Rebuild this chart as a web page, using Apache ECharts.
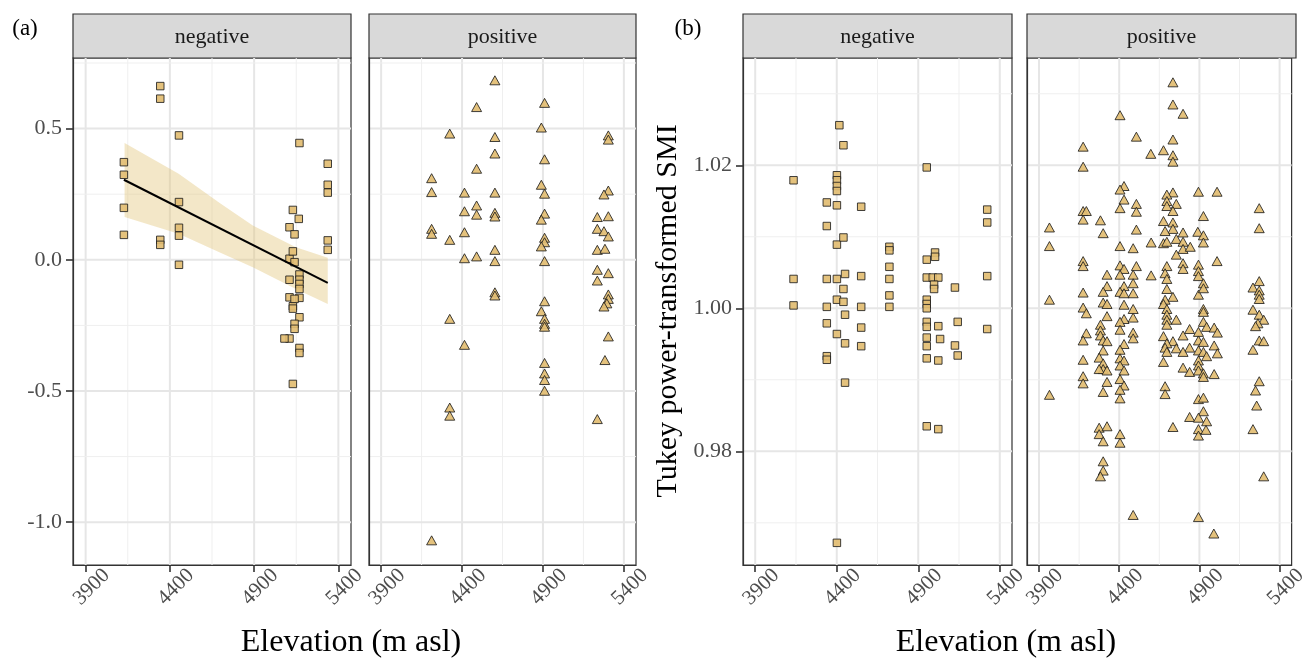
<!DOCTYPE html>
<html><head><meta charset="utf-8">
<script src="https://cdn.jsdelivr.net/npm/echarts@6/dist/echarts.min.js"></script>
<style>html,body{margin:0;padding:0;background:#fff}#c{width:1310px;height:663px}</style>
</head><body><div id="c"></div>
<script>
// ---------------- data ----------------
const facetLabels = ['negative', 'positive'];
const panelTags = ['(a)', '(b)'];
const xTitle = 'Elevation (m asl)';
const yTitleB = 'Tukey power-transformed SMI';
const xTicks = [3900, 4400, 4900, 5400];
const xMinor = [4150, 4650, 5150];
const aYTicks = [-1.0, -0.5, 0.0, 0.5];
const aYMinor = [-0.75, -0.25, 0.25, 0.75];
const bYTicks = [0.98, 1.00, 1.02];
const bYMinor = [0.97, 0.99, 1.01, 1.03];

// (a) negative : [elevation, value]
const aNeg = [
 [4127,0.372],[4127,0.324],[4127,0.198],[4127,0.095],
 [4343,0.662],[4343,0.614],[4343,0.076],[4343,0.057],
 [4454,0.474],[4454,0.220],[4454,0.122],[4454,0.092],[4454,-0.019],
 [5169,0.445],[5169,-0.056],[5169,-0.076],[5169,-0.092],[5169,-0.111],[5169,-0.145],[5169,-0.219],[5169,-0.336],[5169,-0.355],
 [5110,0.124],[5110,-0.076],[5110,0.004],[5110,-0.143],[5110,-0.300],
 [5130,0.190],[5130,0.032],[5130,-0.177],[5130,-0.186],[5130,-0.473],
 [5140,0.097],[5140,-0.009],[5140,-0.149],[5140,-0.244],[5140,-0.263],
 [5165,0.156],[5080,-0.300],
 [5337,0.366],[5337,0.286],[5337,0.256],[5337,0.074],[5337,0.038]
];
// (a) positive
const aPos = [
 [4603,0.684],[4490,0.582],[4910,0.598],[4324,0.481],[4603,0.468],[4890,0.504],[5304,0.474],[5304,0.458],
 [4603,0.405],[4910,0.383],[4490,0.347],[4212,0.311],[4212,0.258],[4415,0.256],[4603,0.256],[4890,0.286],
 [4910,0.252],[5304,0.264],[5277,0.249],[4415,0.185],[4490,0.207],[4490,0.172],[4603,0.179],[4603,0.165],
 [4910,0.176],[4890,0.153],[5236,0.163],[5304,0.166],[4212,0.118],[4212,0.099],[4324,0.076],[4415,0.105],
 [5236,0.118],[5277,0.109],[5304,0.089],[4910,0.084],[4910,0.067],[4890,0.051],[5236,0.038],[5283,0.042],
 [4415,0.006],[4490,0.013],[4603,0.038],[4603,-0.005],[4910,-0.005],[5236,-0.038],[5304,-0.051],[5236,-0.079],
 [4603,-0.124],[4603,-0.136],[5304,-0.132],[5304,-0.149],[5295,-0.166],[5277,-0.178],[4910,-0.158],[4890,-0.196],
 [4910,-0.225],[4910,-0.244],[4324,-0.225],[4910,-0.255],[4415,-0.324],[5304,-0.292],[5283,-0.382],[4910,-0.393],
 [4910,-0.433],[4910,-0.458],[4910,-0.499],[4324,-0.563],[4324,-0.594],[5236,-0.607],[4212,-1.069]
];
// linear fit and its confidence band, panel (a) negative
const fitX = [4127, 5337];
const fitY = [0.305, -0.088];
const bandX = [4131, 4452, 4700, 4892, 5148, 5337];
const bandUpper = [0.445, 0.328, 0.215, 0.131, 0.048, 0.008];
const bandLower = [0.163, 0.099, 0.027, -0.028, -0.111, -0.168];

// (b) negative
const bNeg = [
 [4135,1.0179],[4135,1.0041],[4135,1.0004],[4416,1.0256],[4441,1.0228],
 [4401,1.0186],[4401,1.0179],[4401,1.0171],[4401,1.0164],[4401,1.0144],[4401,1.0089],[4401,1.0041],[4401,1.0012],[4401,0.9964],[4401,0.9672],
 [4339,1.0148],[4339,1.0115],[4339,1.0041],[4339,1.0002],[4339,0.9979],[4339,0.9933],[4339,0.9928],
 [4550,1.0142],[4550,1.0045],[4550,1.0002],[4550,0.9973],[4550,0.9947],
 [4441,1.0099],[4441,1.0027],[4441,1.0009],[4451,1.0048],[4451,0.9991],[4451,0.9951],[4451,0.9896],
 [4723,1.0086],[4723,1.0081],[4723,1.0058],[4723,1.0041],[4723,1.0018],[4723,1.0002],
 [4952,1.0197],[4952,1.0068],[4952,1.0043],[4952,1.0012],[4952,1.0006],[4952,1.0000],[4952,0.9981],[4952,0.9974],[4952,0.9959],[4952,0.9947],[4952,0.9930],[4952,0.9835],
 [5003,1.0078],[5003,1.0072],[4989,1.0043],[5023,1.0043],[5023,0.9975],[5023,0.9927],[5023,0.9831],
 [4997,1.0033],[4997,1.0027],[5034,0.9957],[5125,1.0029],[5125,0.9948],[5142,0.9981],[5142,0.9934],
 [5323,1.0138],[5323,1.0120],[5323,1.0045],[5323,0.9971]
];
// (b) positive
const bPos = [
 [4735,1.0316],[4735,1.0285],[4798,1.0272],[4405,1.0270],[4507,1.0240],[4735,1.0236],[4175,1.0226],[4597,1.0216],
 [4676,1.0221],[4735,1.0214],[4735,1.0205],[4175,1.0198],[4430,1.0171],[4405,1.0166],[4735,1.0162],[4697,1.0159],
 [4894,1.0163],[5010,1.0163],[4430,1.0152],[4697,1.0150],[4507,1.0146],[4756,1.0146],[4697,1.0143],[4405,1.0140],
 [5273,1.0140],[4175,1.0136],[4195,1.0136],[4507,1.0135],[4735,1.0136],[4925,1.0129],[4175,1.0124],[4283,1.0123],
 [4676,1.0122],[4735,1.0120],[3965,1.0113],[5273,1.0112],[4507,1.0110],[4735,1.0111],[4686,1.0108],[4300,1.0105],
 [4798,1.0106],[4890,1.0107],[4925,1.0102],[4756,1.0097],[3965,1.0087],[4405,1.0087],[4487,1.0084],[4599,1.0092],
 [4676,1.0091],[4697,1.0093],[4798,1.0093],[4925,1.0092],[4798,1.0083],[4843,1.0086],[4756,1.0075],
 [5010,1.0066],[4175,1.0066],[4175,1.0059],[4405,1.0060],[4430,1.0055],[4507,1.0059],[4697,1.0059],[4798,1.0063],
 [4798,1.0055],[4894,1.0061],[4894,1.0052],[4894,1.0045],[4324,1.0047],[4405,1.0047],[4487,1.0047],[4599,1.0046],
 [4686,1.0049],[4697,1.0041],[4324,1.0031],[4430,1.0031],[4487,1.0035],[4925,1.0035],[5273,1.0038],[5234,1.0029],
 [5273,1.0025],[5273,1.0019],[5273,1.0013],[4175,1.0022],[4300,1.0023],[4405,1.0023],[4430,1.0021],[4487,1.0021],
 [4697,1.0027],[4735,1.0016],[4894,1.0019],[3965,1.0012],[4925,1.0028],[4686,1.0012],[4300,1.0008],[4324,1.0006],
 [4430,1.0005],[4676,1.0006],[4697,0.9999],[4175,1.0001],[4195,0.9993],[4487,0.9999],[4925,0.9999],[4925,0.9995],
 [5234,0.9998],[5273,0.9991],[4324,0.9989],[4697,0.9991],[4697,0.9984],[4487,0.9987],[4430,0.9985],[4756,0.9984],
 [4925,0.9981],[5301,0.9984],[4405,0.9981],[5265,0.9979],[5250,0.9975],[4283,0.9977],[4283,0.9969],[4697,0.9977],
 [4405,0.9970],[4945,0.9974],[4839,0.9971],[4992,0.9973],[5012,0.9966],[4894,0.9967],[4195,0.9965],[4487,0.9966],
 [4487,0.9958],[4283,0.9962],[4798,0.9962],[4676,0.9961],[4300,0.9955],[4324,0.9954],[4735,0.9954],[4894,0.9955],
 [4925,0.9953],[5273,0.9955],[5301,0.9954],[4175,0.9955],[4430,0.9950],[4697,0.9951],[4992,0.9948],[5234,0.9942],
 [4405,0.9942],[4686,0.9945],[4756,0.9944],[4839,0.9945],[4697,0.9939],[4798,0.9939],[4894,0.9941],[4925,0.9939],
 [5012,0.9937],[4300,0.9941],[4945,0.9933],[4175,0.9928],[4275,0.9931],[4405,0.9930],[4430,0.9927],[4894,0.9927],
 [4676,0.9925],[4300,0.9923],[4300,0.9915],[4405,0.9920],[4430,0.9913],[4894,0.9920],[4275,0.9915],[4798,0.9917],
 [4324,0.9913],[4839,0.9911],[4894,0.9913],[4925,0.9909],[4925,0.9904],[4992,0.9908],[4405,0.9901],[4175,0.9905],
 [4175,0.9895],[5273,0.9898],[4324,0.9897],[4430,0.9892],[5250,0.9885],[4405,0.9886],[4300,0.9883],[3965,0.9879],
 [4686,0.9891],[4686,0.9880],[4405,0.9874],[4894,0.9873],[4925,0.9875],[5257,0.9864],[4925,0.9856],[4839,0.9848],
 [4894,0.9847],[4945,0.9842],[4735,0.9834],[4275,0.9833],[4324,0.9835],[4894,0.9831],[5234,0.9831],
 [4275,0.9824],[4300,0.9814],[4405,0.9824],[4405,0.9812],[4894,0.9822],[4941,0.9830],[4300,0.9786],[4300,0.9773],
 [4283,0.9765],[5301,0.9765],[4487,0.9711],[4894,0.9708],[4990,0.9685]
];

// ---------------- layout ----------------
const FONT = '"Liberation Serif", "Times New Roman", serif';
const TOP = 58, H = 507, STRIP_TOP = 14, STRIP_H = 44;
const X_MIN = 3825, X_MAX = 5475;
const ranges = { a: [-1.163, 0.769], b: [0.9641, 1.0350] };
const panels = [
  { left: 73,   width: 278, set: 'a', facet: 0, showY: true,  data: aNeg, sym: 'rect' },
  { left: 369,  width: 267, set: 'a', facet: 1, showY: false, data: aPos, sym: 'triangle' },
  { left: 743,  width: 269, set: 'b', facet: 0, showY: true,  data: bNeg, sym: 'rect' },
  { left: 1027, width: 269, set: 'b', facet: 1, showY: false, data: bPos, sym: 'triangle' }
];
const yTicksOf = { a: aYTicks, b: bYTicks };
const yMinorOf = { a: aYMinor, b: bYMinor };
const yDigits = { a: 1, b: 2 };

const grid = [], xAxis = [], yAxis = [], series = [], graphic = [];
const MAJOR = '#e6e6e6', MINOR = '#efefef';

panels.forEach((p, i) => {
  const [yMin, yMax] = ranges[p.set];
  grid.push({ left: p.left, top: TOP, width: p.width, height: H, show: true,
    borderColor: '#333', borderWidth: 1.2, backgroundColor: 'transparent' });
  xAxis.push({ gridIndex: i, type: 'value', min: X_MIN, max: X_MAX,
    splitLine: { show: false },
    axisLine: { show: true, onZero: false, lineStyle: { color: '#333', width: 1.2 } },
    axisTick: { show: true, customValues: xTicks, length: 7, lineStyle: { color: '#333', width: 1.6 } },
    axisLabel: { customValues: xTicks, rotate: 45, align: 'center', verticalAlign: 'middle',
      margin: 28, padding: [0, 0, 0, 17], color: '#4d4d4d', fontFamily: FONT, fontSize: 21,
      formatter: v => String(v) } });
  yAxis.push({ gridIndex: i, type: 'value', min: yMin, max: yMax,
    splitLine: { show: false },
    axisLine: { show: true, onZero: false, lineStyle: { color: '#333', width: 1.2 } },
    axisTick: { show: p.showY, customValues: yTicksOf[p.set], length: 7, lineStyle: { color: '#333', width: 1.6 } },
    axisLabel: { show: p.showY, customValues: yTicksOf[p.set], margin: 11, color: '#4d4d4d',
      fontFamily: FONT, fontSize: 22, formatter: v => v.toFixed(yDigits[p.set]) } });

  // grid lines (minor then major) drawn through the axes
  const vData = xMinor.map(v => [v, 1]).concat(xTicks.map(v => [v, 0]));
  const hData = yMinorOf[p.set].map(v => [v, 1]).concat(yTicksOf[p.set].map(v => [v, 0]));
  series.push({ type: 'custom', xAxisIndex: i, yAxisIndex: i, z: 0, silent: true, data: vData,
    renderItem: (params, api) => {
      const v = api.value(0), minor = api.value(1);
      const a = api.coord([v, yMin]), b = api.coord([v, yMax]);
      return { type: 'line', shape: { x1: a[0], y1: a[1], x2: b[0], y2: b[1] },
        style: { stroke: minor ? MINOR : MAJOR, lineWidth: minor ? 1 : 2 } };
    } });
  series.push({ type: 'custom', xAxisIndex: i, yAxisIndex: i, z: 0, silent: true, data: hData,
    renderItem: (params, api) => {
      const v = api.value(0), minor = api.value(1);
      const a = api.coord([X_MIN, v]), b = api.coord([X_MAX, v]);
      return { type: 'line', shape: { x1: a[0], y1: a[1], x2: b[0], y2: b[1] },
        style: { stroke: minor ? MINOR : MAJOR, lineWidth: minor ? 1 : 2 } };
    } });

  if (i === 0) {
    series.push({ type: 'custom', xAxisIndex: 0, yAxisIndex: 0, z: 1, silent: true, data: [[bandX[0], bandUpper[0]]],
      renderItem: (params, api) => {
        const pts = bandX.map((x, k) => api.coord([x, bandUpper[k]]))
          .concat(bandX.slice().reverse().map((x, k) => api.coord([x, bandLower[bandX.length - 1 - k]])));
        return { type: 'polygon', shape: { points: pts, smooth: 0 },
          style: { fill: 'rgba(226,194,118,0.40)' } };
      } });
  }

  series.push({ type: 'scatter', xAxisIndex: i, yAxisIndex: i, z: 3, data: p.data,
    symbol: p.sym, symbolSize: p.sym === 'rect' ? 7.5 : [10, 9],
    itemStyle: { color: '#e2bd72', borderColor: '#1a1a1a', borderWidth: 0.9, opacity: 0.92 } });

  if (i === 0) {
    series.push({ type: 'line', xAxisIndex: 0, yAxisIndex: 0, z: 4, silent: true,
      data: fitX.map((x, k) => [x, fitY[k]]), symbol: 'none',
      lineStyle: { color: '#000', width: 2 } });
  }

  // facet strip
  graphic.push({ type: 'rect', shape: { x: p.left, y: STRIP_TOP, width: p.width, height: STRIP_H },
    style: { fill: '#d9d9d9', stroke: '#333', lineWidth: 1.2 } });
  graphic.push({ type: 'text', x: p.left + p.width / 2, y: STRIP_TOP + STRIP_H / 2 + 1,
    style: { text: facetLabels[p.facet], font: '22px ' + FONT, fill: '#1a1a1a',
      textAlign: 'center', textVerticalAlign: 'middle' } });
});

// titles and panel tags
graphic.push({ type: 'text', x: 351, y: 643, style: { text: xTitle, font: '32px ' + FONT, fill: '#000', textAlign: 'center', textVerticalAlign: 'middle' } });
graphic.push({ type: 'text', x: 1006, y: 643, style: { text: xTitle, font: '32px ' + FONT, fill: '#000', textAlign: 'center', textVerticalAlign: 'middle' } });
graphic.push({ type: 'text', x: 668, y: 311, rotation: Math.PI / 2, style: { text: yTitleB, font: '30px ' + FONT, fill: '#000', textAlign: 'center', textVerticalAlign: 'middle' } });
graphic.push({ type: 'text', x: 25, y: 29, style: { text: panelTags[0], font: '23px ' + FONT, fill: '#000', textAlign: 'center', textVerticalAlign: 'middle' } });
graphic.push({ type: 'text', x: 688, y: 29, style: { text: panelTags[1], font: '23px ' + FONT, fill: '#000', textAlign: 'center', textVerticalAlign: 'middle' } });

const chart = echarts.init(document.getElementById('c'), null, { renderer: 'canvas' });
chart.setOption({ animation: false, backgroundColor: '#fff', grid, xAxis, yAxis, series, graphic });
</script>
</body></html>
